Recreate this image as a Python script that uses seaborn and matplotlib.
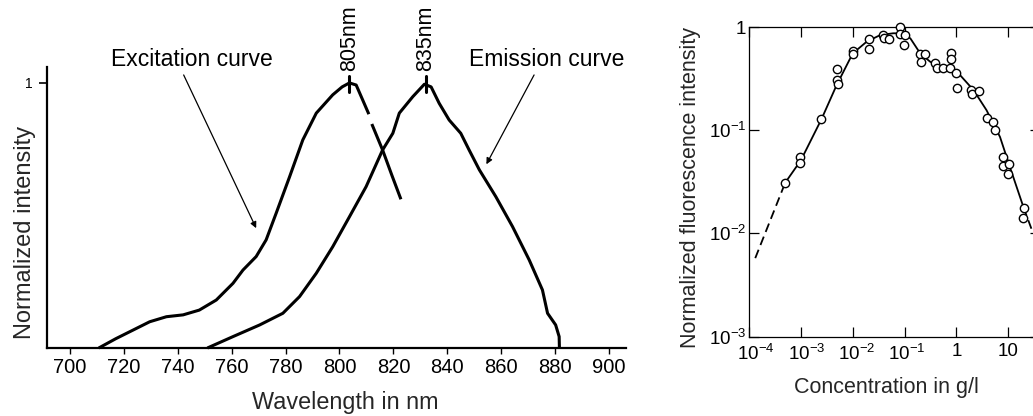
import matplotlib
matplotlib.use("Agg")
import matplotlib.pyplot as plt
import matplotlib.transforms as mtrans
import numpy as np
import pandas as pd
import seaborn as sns

# ---------------- Left panel data (wavelength in nm, normalized intensity) ----------------
exc_wl_a = [710.7, 717.0, 723.5, 729.6, 735.8, 742.0, 748.0, 754.3, 760.5, 764.2, 769.1,
            772.8, 776.5, 781.5, 786.4, 791.4, 797.5, 801.0, 803.7, 806.2, 808.6, 810.9]
exc_I_a = [0.0, 0.035, 0.068, 0.099, 0.118, 0.125, 0.143, 0.181, 0.244, 0.294, 0.345,
           0.408, 0.508, 0.646, 0.785, 0.886, 0.955, 0.985, 1.0, 0.992, 0.936, 0.882]
exc_wl_b = [812.0, 816.0, 819.5, 822.8]
exc_I_b = [0.845, 0.747, 0.650, 0.561]

em_wl = [751.0, 760.5, 770.4, 779.0, 785.2, 791.4, 797.5, 803.7, 809.9, 816.0, 819.8, 822.2,
         827.2, 831.5, 834.0, 837.0, 840.7, 845.0, 848.1, 851.9, 858.0, 864.2, 870.4, 875.3,
         877.2, 880.2, 881.5, 881.6]
em_I = [0.0, 0.043, 0.087, 0.131, 0.194, 0.282, 0.382, 0.495, 0.609, 0.747, 0.81, 0.886,
        0.948, 0.995, 0.985, 0.923, 0.86, 0.81, 0.747, 0.672, 0.571, 0.458, 0.332, 0.219,
        0.131, 0.087, 0.043, 0.0]

peak_wl = [803.7, 832.1]
peak_labels = ["805nm", "835nm"]
wl_ticks = [700, 720, 740, 760, 780, 800, 820, 840, 860, 880, 900]

# ---------------- Right panel data (concentration g/l, normalized fluorescence) ----------------
conc_pts = [5.0e-4, 9.7e-4, 9.7e-4, 2.46e-3, 4.9e-3, 4.9e-3, 5.1e-3, 0.010, 0.010, 0.0204,
            0.0204, 0.038, 0.040, 0.051, 0.082, 0.082, 0.102, 0.098, 0.20, 0.25, 0.204,
            0.39, 0.42, 0.55, 0.78, 0.79, 0.76, 1.0, 1.01, 1.89, 1.97, 2.69, 3.94, 5.14,
            5.55, 8.0, 8.0, 10.3, 10.0, 20.0, 19.5]
fl_pts = [0.031, 0.055, 0.0485, 0.129, 0.388, 0.305, 0.28, 0.589, 0.547, 0.759,
          0.607, 0.836, 0.776, 0.759, 1.0, 0.855, 0.836, 0.668, 0.547, 0.543, 0.461,
          0.444, 0.397, 0.397, 0.555, 0.485, 0.397, 0.355, 0.254, 0.244, 0.224, 0.239,
          0.13, 0.12, 0.10, 0.055, 0.045, 0.0475, 0.038, 0.0176, 0.0141]

fit_conc = [5.0e-4, 1.0e-3, 2.5e-3, 4.9e-3, 0.010, 0.0186, 0.034, 0.060, 0.089, 0.129,
            0.20, 0.31, 0.48, 0.76, 1.17, 2.14, 3.8, 6.9, 10.7, 19.5]
fit_fl = [0.031, 0.051, 0.128, 0.274, 0.555, 0.721, 0.836, 0.869, 0.869, 0.776,
          0.555, 0.461, 0.412, 0.397, 0.342, 0.244, 0.156, 0.086, 0.044, 0.018]
ext_lo_conc = [1.32e-4, 5.0e-4]
ext_lo_fl = [0.00575, 0.031]
ext_hi_conc = [19.5, 30.0]
ext_hi_fl = [0.018, 0.010]

conc_ticks = [1e-4, 1e-3, 1e-2, 1e-1, 1, 10]
conc_ticklabels = [r"$\mathregular{10^{-4}}$", r"$\mathregular{10^{-3}}$", r"$\mathregular{10^{-2}}$",
                   r"$\mathregular{10^{-1}}$", "1", "10"]
fl_ticks = [1e-3, 1e-2, 1e-1, 1]
fl_ticklabels = [r"$\mathregular{10^{-3}}$", r"$\mathregular{10^{-2}}$", r"$\mathregular{10^{-1}}$", "1"]

# ---------------- Style ----------------
sns.set_theme(style="ticks")
plt.rcParams["font.family"] = ["Liberation Sans", "DejaVu Sans"]
plt.rcParams["mathtext.fontset"] = "custom"
plt.rcParams["mathtext.rm"] = "Liberation Sans"
plt.rcParams["mathtext.it"] = "Liberation Sans:italic"
plt.rcParams["mathtext.bf"] = "Liberation Sans:bold"
plt.rcParams["axes.edgecolor"] = "black"
plt.rcParams["text.color"] = "black"
plt.rcParams["xtick.color"] = "black"
plt.rcParams["ytick.color"] = "black"

W, H = 1033, 416
fig = plt.figure(figsize=(W / 100, H / 100), dpi=100)
fig.patch.set_facecolor("white")

# ---------------- Left panel ----------------
ax1 = fig.add_axes([47 / W, (H - 348) / H, 579 / W, 281 / H])
ax1.set_facecolor("white")
sns.lineplot(x=exc_wl_a, y=exc_I_a, ax=ax1, color="black", lw=2.2, sort=False, estimator=None)
sns.lineplot(x=exc_wl_b, y=exc_I_b, ax=ax1, color="black", lw=2.2, sort=False, estimator=None)
sns.lineplot(x=em_wl, y=em_I, ax=ax1, color="black", lw=2.2, sort=False, estimator=None)
for line in ax1.lines:
    line.set_solid_capstyle("butt")
    line.set_clip_on(False)

ax1.set_xlim(691.5, 906.3)
ax1.set_ylim(0, 1.06)
ax1.set_xticks(wl_ticks)
ax1.set_yticks([1])
ax1.set_yticklabels(["1"])
sns.despine(ax=ax1)
for s in ["left", "bottom"]:
    ax1.spines[s].set_linewidth(1.6)
ax1.tick_params(axis="x", direction="out", length=4, width=1.0, labelsize=14.5, pad=3.3)
ax1.tick_params(axis="y", direction="out", length=6, width=1.2, labelsize=10, pad=4)

# peak marks and labels
for pw, pl in zip(peak_wl, peak_labels):
    ax1.plot([pw, pw], [0.966, 1.026], color="black", lw=2.2, clip_on=False)
    ax1.text(pw, 1.045, pl, rotation=90, ha="center", va="bottom", fontsize=15.5, clip_on=False)

# annotations
ax1.text(745.1, 1.087, "Excitation curve", ha="center", va="center", fontsize=16.5)
ax1.annotate("", xy=(769.1, 0.452), xytext=(742.2, 1.03), annotation_clip=False,
             arrowprops=dict(arrowstyle="-|>", lw=0.9, color="black", mutation_scale=9,
                             shrinkA=0, shrinkB=0))
ax1.text(876.7, 1.087, "Emission curve", ha="center", va="center", fontsize=16.5)
ax1.annotate("", xy=(854.5, 0.693), xytext=(872.2, 1.03), annotation_clip=False,
             arrowprops=dict(arrowstyle="-|>", lw=0.9, color="black", mutation_scale=9,
                             shrinkA=0, shrinkB=0))

ax1.set_xlabel("Wavelength in nm", fontsize=16.8, va="baseline")
ax1.set_ylabel("Normalized intensity", fontsize=17)
ax1.xaxis.set_label_coords(0.5147, -0.2157)
ax1.yaxis.set_label_coords(-0.019, 0.413)

# ---------------- Right panel ----------------
ax2 = fig.add_axes([749 / W, (H - 336.5) / H, 291 / W, 309.5 / H])
ax2.set_facecolor("white")
ax2.set_xscale("log")
ax2.set_yscale("log")
sns.lineplot(x=fit_conc, y=fit_fl, ax=ax2, color="black", lw=1.3, sort=False, estimator=None)
sns.lineplot(x=ext_lo_conc, y=ext_lo_fl, ax=ax2, color="black", lw=1.3, sort=False,
             estimator=None, linestyle=(0, (5, 2.8)))
sns.lineplot(x=ext_hi_conc, y=ext_hi_fl, ax=ax2, color="black", lw=1.3, sort=False,
             estimator=None, linestyle=(0, (5, 2.8)))
sns.scatterplot(x=conc_pts, y=fl_pts, ax=ax2, s=36, facecolor="white", edgecolor="black",
                linewidth=1.0, zorder=5, clip_on=False)

ax2.set_xlim(1e-4, 10 ** 1.61)
ax2.set_ylim(1e-3, 1)
ax2.set_xticks(conc_ticks)
ax2.set_xticklabels(conc_ticklabels)
ax2.set_yticks(fl_ticks)
ax2.set_yticklabels(fl_ticklabels)
ax2.minorticks_off()
for s in ax2.spines.values():
    s.set_linewidth(0.9)
ax2.tick_params(axis="both", which="both", direction="in", length=7, width=0.9,
                top=True, right=True, labelsize=13.5)
ax2.tick_params(axis="x", pad=5)
ax2.tick_params(axis="y", pad=2)

# small horizontal nudges of the x tick labels as in the reference
label_shift_px = [7, 6, 4, 2, 0, 0]
for lab, dx in zip(ax2.get_xticklabels(), label_shift_px):
    lab.set_transform(lab.get_transform() +
                      mtrans.ScaledTranslation(dx / 100, 0, fig.dpi_scale_trans))

ax2.set_xlabel("Concentration in g/l", fontsize=15.5, va="top")
ax2.set_ylabel("Normalized fluorescence intensity", fontsize=15.5)
ax2.xaxis.set_label_coords(0.474, -0.131)
ax2.yaxis.set_label_coords(-0.165, 0.483)

fig.savefig("out.png", dpi=100, facecolor="white")
